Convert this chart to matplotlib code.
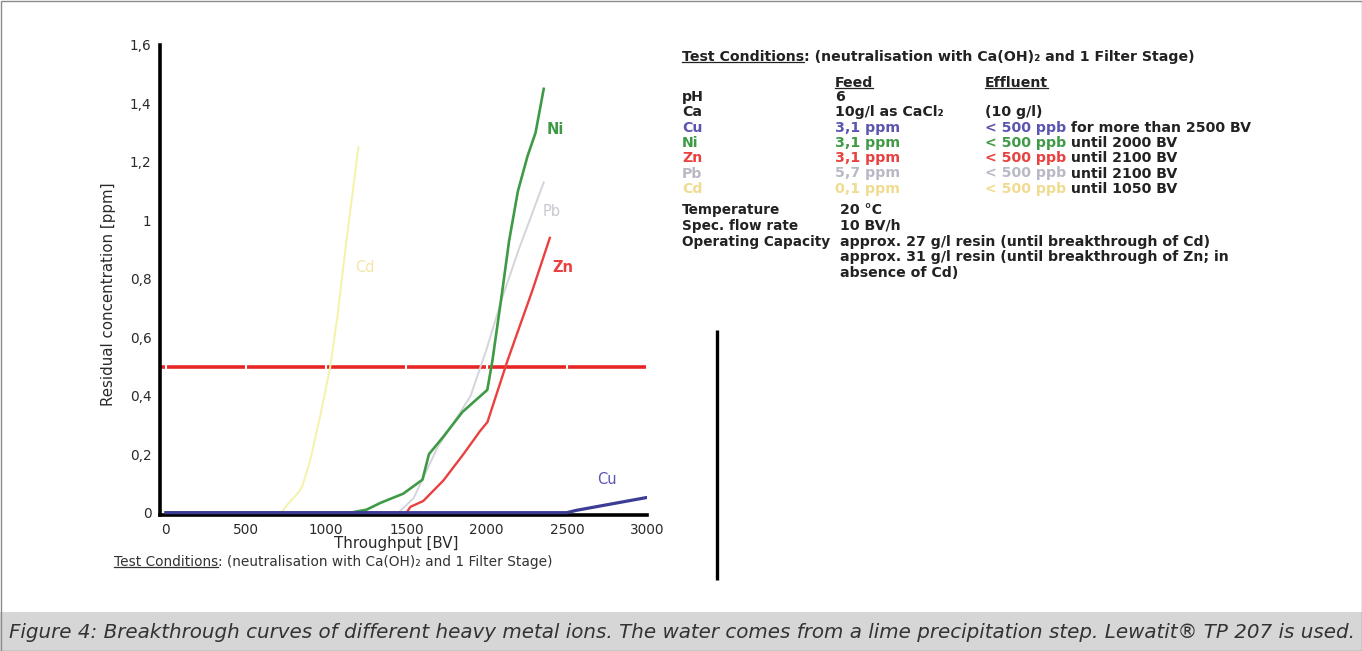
import numpy as np
import matplotlib.pyplot as plt
from matplotlib.patches import Rectangle
from matplotlib.lines import Line2D
from matplotlib.ticker import FuncFormatter

# --- data (throughput in BV, residual conc. in ppm) ---
cd_bv = [0, 720, 756, 825, 850, 900, 962, 1025, 1069, 1119, 1200]
cd_ppm = [0, 0, 0.027, 0.068, 0.09, 0.18, 0.33, 0.50, 0.67, 0.90, 1.25]

pb_bv = [0, 1450, 1545, 1605, 1695, 1820, 1900, 2000, 2100, 2200, 2356]
pb_ppm = [0, 0, 0.05, 0.12, 0.225, 0.33, 0.40, 0.56, 0.74, 0.90, 1.13]

zn_bv = [0, 1500, 1525, 1605, 1730, 1855, 1960, 2005, 2130, 2285, 2394]
zn_ppm = [0, 0, 0.02, 0.04, 0.11, 0.20, 0.28, 0.31, 0.52, 0.76, 0.94]

ni_bv = [0, 1150, 1250, 1340, 1480, 1600, 1640, 1730, 1850, 2004, 2036, 2098, 2140, 2195, 2255, 2305, 2356]
ni_ppm = [0, 0, 0.01, 0.034, 0.065, 0.113, 0.20, 0.26, 0.345, 0.42, 0.52, 0.76, 0.93, 1.10, 1.22, 1.30, 1.45]

cu_bv = [0, 2500, 2560, 3000]
cu_ppm = [0, 0, 0.008, 0.052]

limit_ppm = 0.5   # 500 ppb

yticks = [0, 0.2, 0.4, 0.6, 0.8, 1, 1.2, 1.4, 1.6]
xticks = [0, 500, 1000, 1500, 2000, 2500, 3000]

# table on the right side
rows = ['pH', 'Ca', 'Cu', 'Ni', 'Zn', 'Pb', 'Cd']
feed = ['6', '10g/l as CaCl\u2082', '3,1 ppm', '3,1 ppm', '3,1 ppm', '5,7 ppm', '0,1 ppm']
effl_col = ['', '', '< 500 ppb', '< 500 ppb', '< 500 ppb', '< 500 ppb', '< 500 ppb']
effl_rest = ['', '(10 g/l)', ' for more than 2500 BV', ' until 2000 BV', ' until 2100 BV',
             ' until 2100 BV', ' until 1050 BV']
row_cols = ['#222222', '#222222', '#5a55b0', '#3f9a45', '#e8413f', '#b9b9c6', '#f0dc90']

rows2 = ['Temperature', 'Spec. flow rate', 'Operating Capacity', '', '']
vals2 = ['20 \u00b0C', '10 BV/h', 'approx. 27 g/l resin (until breakthrough of Cd)',
         'approx. 31 g/l resin (until breakthrough of Zn; in', 'absence of Cd)']

plt.rcParams['font.family'] = ['DejaVu Sans']

fig = plt.figure(figsize=(13.62, 6.51), dpi=100)

# background layer in pixel coords
bg = fig.add_axes([0, 0, 1, 1], zorder=-1)
bg.set_xlim(0, 1362)
bg.set_ylim(651, 0)
bg.axis('off')
bg.add_patch(Rectangle((0, 612), 1362, 39, color='#d6d6d6', lw=0))
bg.add_patch(Rectangle((0.5, 0.5), 1361, 650, fill=False, ec='#8a8a8a', lw=1))
bg.plot([717, 717], [330, 580], color='black', lw=2.4, solid_capstyle='butt')

# --- chart ---
ax = fig.add_axes([160/1362, (651-515)/651, 487/1362, 470/651])
ax.set_xlim(-37, 3000)
ax.set_ylim(-0.008, 1.6)

ax.axhline(limit_ppm, color='#e82525', lw=2.6, zorder=1.2)
ax.plot(cd_bv, cd_ppm, color='#f3f3a8', lw=1.4, zorder=2)
ax.plot(pb_bv, pb_ppm, color='#d4d4dc', lw=1.4, zorder=2)
ax.plot(zn_bv, zn_ppm, color='#e8413f', lw=1.7, zorder=2)
ax.plot(ni_bv, ni_ppm, color='#3f9a45', lw=1.9, zorder=2)
ax.plot(cu_bv, cu_ppm, color='#3c3c96', lw=2.3, zorder=3)

ax.text(2376, 1.31, 'Ni', color='#3f9a45', fontsize=10.5, fontweight='bold', va='center')
ax.text(2350, 1.03, 'Pb', color='#c8c8d0', fontsize=10.5, va='center')
ax.text(2410, 0.84, 'Zn', color='#e8413f', fontsize=10.5, fontweight='bold', va='center')
ax.text(1180, 0.84, 'Cd', color='#f3e6a8', fontsize=10.5, va='center')
ax.text(2690, 0.112, 'Cu', color='#5a55b0', fontsize=10.5, va='center')

# white vertical gridlines only cut the red limit line
ax.set_axisbelow('line')
ax.grid(axis='x', color='white', lw=1.5)
ax.grid(axis='y', visible=False)

for s in ['top', 'right']:
    ax.spines[s].set_visible(False)
ax.spines['left'].set_linewidth(2.6)
ax.spines['bottom'].set_linewidth(2.6)
ax.set_xticks(xticks)
ax.set_yticks(yticks)
ax.yaxis.set_major_formatter(FuncFormatter(lambda v, p: f'{v:g}'.replace('.', ',')))
ax.tick_params(length=0, labelsize=9.8, labelcolor='#2a2a2a', pad=6)
ax.set_xlabel('Throughput [BV]', fontsize=10.8, color='#2a2a2a')
ax.xaxis.set_label_coords(0.485, -0.044)
ax.set_ylabel('Residual concentration [ppm]', fontsize=10.8, color='#2a2a2a')
ax.yaxis.set_label_coords(-0.09, 0.47)

underline = []

t = bg.text(114, 566, 'Test Conditions', fontsize=9.9, color='#333333', va='baseline')
underline.append(t)
bg.annotate(': (neutralisation with Ca(OH)\u2082 and 1 Filter Stage)', xy=(1, 0), xycoords=t,
            va='bottom', fontsize=9.9, color='#333333')

# --- right side table ---
c0, c1, c2 = 682, 835, 985
fs = 10.2
t = bg.text(c0, 61, 'Test Conditions', fontsize=fs, fontweight='bold', color='#222222', va='baseline')
underline.append(t)
bg.annotate(': (neutralisation with Ca(OH)\u2082 and 1 Filter Stage)', xy=(1, 0), xycoords=t,
            va='bottom', fontsize=fs, fontweight='bold', color='#222222')
underline.append(bg.text(c1, 87, 'Feed', fontsize=fs, fontweight='bold', color='#222222', va='baseline'))
underline.append(bg.text(c2, 87, 'Effluent', fontsize=fs, fontweight='bold', color='#222222', va='baseline'))

y = 101
for name, fd, ec, er, col in zip(rows, feed, effl_col, effl_rest, row_cols):
    bg.text(c0, y, name, fontsize=fs, fontweight='bold', color=col, va='baseline')
    bg.text(c1, y, fd, fontsize=fs, fontweight='bold', color=col, va='baseline')
    t = bg.text(c2, y, ec, fontsize=fs, fontweight='bold', color=col, va='baseline')
    if er:
        if ec:
            bg.annotate(er, xy=(1, 0), xycoords=t, va='bottom', fontsize=fs,
                        fontweight='bold', color='#222222')
        else:
            bg.text(c2, y, er, fontsize=fs, fontweight='bold', color='#222222', va='baseline')
    y += 15.3

y = 214
for name, v in zip(rows2, vals2):
    bg.text(c0, y, name, fontsize=fs * 0.96, fontweight='bold', color='#222222', va='baseline')
    bg.text(c1 + 5, y, v, fontsize=fs, fontweight='bold', color='#222222', va='baseline')
    y += 15.8

bg.text(9, 632, 'Figure 4: Breakthrough curves of different heavy metal ions. The water comes from a '
        'lime precipitation step. Lewatit\u00ae TP 207 is used.',
        fontsize=14.3, style='italic', color='#333333', va='center')

# underline some headers
fig.canvas.draw()
inv = fig.transFigure.inverted()
for t in underline:
    bb = t.get_window_extent()
    (x0, y0), (x1, _) = inv.transform([[bb.x0, bb.y0 + 2], [bb.x1, bb.y0 + 2]])
    fig.add_artist(Line2D([x0, x1], [y0, y0], color=t.get_color(), lw=0.9, transform=fig.transFigure))

fig.savefig('out.png', dpi=100)
